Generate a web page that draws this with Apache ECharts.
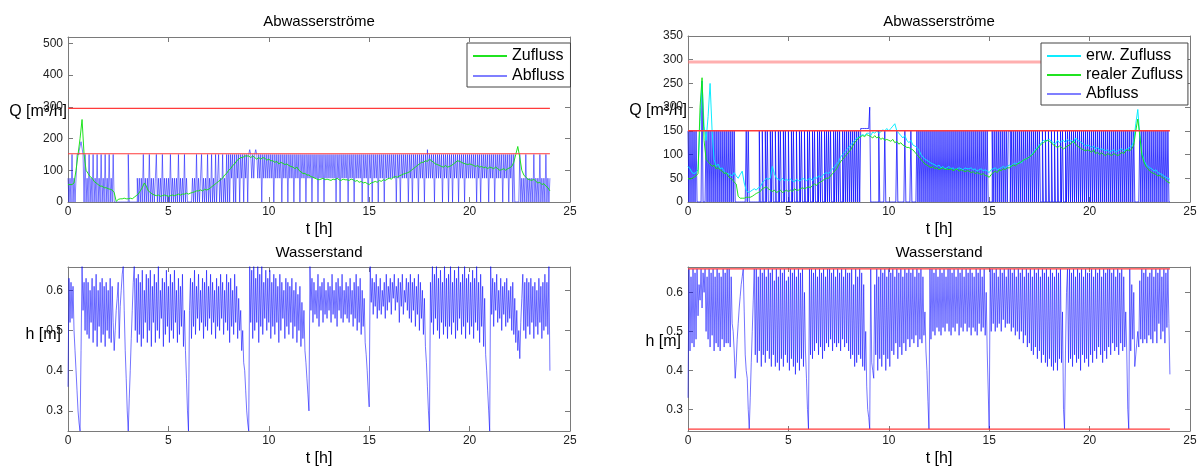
<!DOCTYPE html>
<html>
<head>
<meta charset="utf-8">
<script src="https://cdn.jsdelivr.net/npm/echarts@6/dist/echarts.min.js"></script>
<style>
html,body{margin:0;padding:0;background:#fff;}
#chart{width:1202px;height:467px;}
</style>
</head>
<body>
<div id="chart"></div>
<script>
// ---------- DATA ----------
// inflows sampled every 0.1 h; outflow and level sampled every 0.05 h (t = 0 ... 24 h)
const inflowStepH = 0.1;
const denseStepH = 0.05;
const xTicks = [0, 5, 10, 15, 20, 25];

// top-left: Zufluss [m3/h], 0.1 h
const qZuflussLeft = [
  55,55,55,60,100,150,200,260,150,100,
  90,80,75,65,60,55,50,50,45,45,
  42,40,38,30,2,8,10,10,12,10,
  10,12,10,15,20,25,35,45,60,50,
  35,30,25,22,20,22,18,20,22,20,
  18,20,22,20,22,25,22,25,25,28,
  25,28,30,32,35,35,38,35,40,38,
  40,45,50,55,60,65,70,75,85,90,
  100,105,115,120,130,135,140,140,145,145,
  145,140,145,140,135,140,135,140,138,132,
  135,130,130,125,128,120,125,122,118,120,
  115,112,110,105,110,100,95,90,90,85,
  85,80,78,75,72,70,72,75,70,72,
  70,68,72,70,75,70,68,72,70,70,
  68,72,70,65,68,62,65,60,62,58,
  55,60,62,65,62,68,65,70,68,72,
  75,72,78,80,78,82,85,88,90,92,
  95,100,105,110,115,120,125,125,130,128,
  135,130,125,120,118,115,112,110,115,110,
  112,115,120,125,130,128,125,122,120,118,
  120,118,115,112,115,110,112,108,110,105,
  110,108,105,110,105,100,102,105,100,105,
  108,112,125,150,175,140,100,85,78,72,
  70,68,72,65,60,62,55,58,50,45,
  35
];
// top-left: Abfluss [m3/h], 0.05 h
const qAbflussLeft = [
  75,0,75,0,150,0,75,0,75,150,150,160,175,190,170,150,0,150,0,75,
  0,150,0,75,0,150,0,75,0,150,0,75,0,150,0,75,0,150,0,75,
  0,150,0,75,0,150,0,0,0,0,0,0,0,0,0,0,0,0,0,0,
  150,0,0,0,0,0,0,0,0,75,0,75,0,75,0,150,0,75,0,75,
  0,150,0,75,0,75,0,75,150,0,75,0,75,0,150,0,75,0,75,0,
  75,0,150,0,75,0,75,0,75,0,150,0,75,0,75,0,150,0,75,0,
  0,0,0,0,75,0,75,0,150,0,75,0,75,150,0,75,0,75,0,150,
  0,75,0,150,0,75,0,150,0,75,150,0,75,0,150,0,75,0,150,0,
  150,0,150,75,150,0,150,0,150,75,150,0,150,75,150,0,150,75,150,0,
  150,165,150,75,150,75,150,165,150,75,150,75,150,0,150,75,150,75,150,75,
  150,75,150,75,150,0,150,75,150,75,150,75,150,0,150,75,150,75,150,0,
  150,75,150,75,150,0,150,75,150,75,150,0,150,75,150,75,150,0,150,75,
  150,75,150,0,150,75,150,75,150,0,150,75,150,75,150,0,150,75,150,75,
  150,75,150,75,150,75,150,0,150,75,150,0,150,75,150,75,150,75,150,0,
  150,75,150,75,150,0,150,75,150,75,150,75,150,0,150,75,150,75,150,0,
  150,75,150,0,150,75,150,75,150,0,150,75,150,75,150,0,150,75,150,75,
  150,75,150,75,150,75,150,0,150,75,150,0,150,75,150,75,150,75,150,0,
  150,75,150,0,150,75,150,75,150,0,150,75,150,75,150,0,150,75,165,75,
  150,75,150,75,150,0,150,75,150,75,150,75,150,0,150,75,150,75,150,0,
  150,75,150,0,150,75,150,75,150,0,150,75,150,75,150,0,150,75,150,75,
  150,75,150,75,150,75,150,0,150,75,150,0,150,75,150,75,150,75,150,0,
  150,75,150,75,150,0,150,75,150,75,150,75,150,0,150,75,150,75,150,0,
  150,75,150,0,150,0,0,0,0,0,150,0,75,0,75,0,150,0,75,0,
  75,0,75,0,150,0,75,0,75,0,150,0,75,0,75,0,150,0,75,0,
  75
];
const qLimitsLeft = [295, 152];

// top-right: erw. Zufluss / realer Zufluss [m3/h], 0.1 h
const qErwZuflussRight = [
  75,70,62,60,62,68,170,255,160,130,
  180,250,150,90,75,80,70,72,65,60,
  60,58,55,62,55,50,58,65,40,25,
  20,22,25,28,25,30,32,40,45,50,
  48,50,75,60,50,48,45,50,45,48,
  45,48,45,42,48,45,45,50,48,45,
  48,50,45,52,50,55,52,55,60,62,
  60,65,70,75,80,85,95,100,105,110,
  115,120,125,130,135,135,140,142,140,145,
  145,140,148,145,150,145,148,152,150,155,
  150,155,160,165,150,145,140,135,140,130,
  125,130,120,118,115,110,100,95,90,88,
  85,82,80,78,75,78,72,75,70,72,
  75,70,72,68,70,72,70,68,72,70,
  70,72,68,70,65,68,70,66,68,65,
  62,68,70,72,68,70,72,75,72,75,
  78,75,80,82,80,85,82,88,90,92,
  95,100,105,110,115,120,125,130,128,130,
  132,128,125,122,130,125,128,130,125,132,
  128,130,125,135,130,128,125,122,118,120,
  118,115,118,112,115,110,112,110,108,110,
  105,108,110,105,108,110,112,108,110,112,
  115,118,128,165,195,140,105,88,80,75,
  72,70,65,68,62,60,58,55,52,50,
  48
];
const qRealZuflussRight = [
  50,48,50,52,55,60,200,262,130,90,
  85,80,75,78,70,72,68,65,60,62,
  55,50,48,42,38,12,8,8,8,10,
  10,10,12,15,18,20,22,28,30,32,
  28,25,22,25,20,22,25,20,22,25,
  22,25,22,28,25,25,28,30,28,30,
  32,30,35,38,35,40,42,45,48,50,
  50,55,60,65,70,78,85,90,95,100,
  105,110,118,125,130,135,138,140,138,142,
  140,138,135,140,135,138,132,135,130,132,
  130,128,132,125,128,122,125,120,118,115,
  115,112,110,105,100,95,90,85,80,78,
  75,72,75,70,72,68,70,72,68,70,
  68,70,66,68,70,65,68,66,64,66,
  65,62,64,60,62,60,58,60,56,55,
  52,58,62,65,62,68,66,70,68,72,
  72,75,78,76,80,82,85,88,90,92,
  95,98,102,108,112,118,122,125,128,130,
  128,125,120,118,115,118,115,112,115,118,
  120,125,128,122,118,115,112,110,108,110,
  108,105,110,102,105,100,104,100,98,102,
  100,98,102,100,98,100,105,102,108,110,
  108,112,120,150,175,140,100,85,75,70,
  65,62,60,58,55,56,52,50,45,42,
  40
];
// top-right: Abfluss [m3/h], 0.05 h
const qAbflussRight = [
  150,0,150,0,150,0,150,0,150,0,0,0,0,0,255,0,0,0,150,0,
  150,0,150,0,150,0,150,0,150,0,150,0,150,0,150,0,150,0,150,0,
  150,0,150,0,150,0,150,0,0,0,0,0,0,0,0,0,0,0,150,0,
  150,0,0,0,0,0,0,0,0,0,0,150,0,0,150,0,0,150,0,150,
  0,0,150,0,150,0,0,150,0,0,150,0,150,0,0,150,0,150,0,0,
  150,0,0,150,0,150,0,0,150,0,0,150,0,150,0,0,150,0,0,150,
  0,150,0,0,150,0,150,0,0,150,0,150,0,150,0,0,150,0,150,0,
  150,0,150,0,0,150,0,150,0,150,0,150,0,0,150,0,150,0,150,0,
  150,0,150,0,150,0,150,0,150,0,150,0,155,155,155,155,155,155,155,155,
  155,200,0,0,0,0,0,0,0,0,150,0,0,0,0,0,150,0,0,0,
  0,0,0,0,0,0,0,0,150,0,0,0,0,0,0,0,150,0,0,0,
  0,0,150,0,0,0,0,0,150,0,150,0,150,0,150,0,150,0,150,0,
  150,0,150,0,150,0,150,0,150,0,150,0,150,0,150,0,150,0,150,0,
  150,0,150,0,150,0,150,0,150,0,150,0,150,0,150,0,150,0,150,0,
  150,0,150,0,150,0,150,0,150,0,150,0,150,0,150,0,150,0,150,0,
  0,0,0,150,0,150,0,150,0,150,0,150,0,150,0,150,0,150,0,150,
  150,0,150,0,150,0,150,0,150,0,150,0,150,0,150,0,150,0,150,0,
  150,0,150,0,150,0,150,0,150,0,150,0,0,150,0,0,150,0,0,150,
  0,0,150,0,0,150,0,0,150,0,0,150,0,150,0,0,150,0,150,0,
  150,0,150,0,150,0,150,0,150,0,150,0,150,0,150,0,150,0,150,0,
  150,0,150,0,150,0,150,0,150,0,150,0,150,0,150,0,150,0,150,0,
  150,0,150,0,150,0,150,0,150,0,150,0,150,0,150,0,150,0,150,0,
  150,0,150,0,150,0,0,0,0,0,150,0,150,0,150,0,150,0,150,0,
  150,0,150,0,150,0,150,0,150,0,150,0,150,0,150,0,150,0,150,0,
  0
];
const qLimitsRight = [295, 150];

// bottom: Wasserstand h [m], 0.05 h
const hLeft = [
  .36,.63,.52,.62,.53,.61,.50,.45,.40,.35,.30,.27,.25,.45,.66,.55,.62,.50,.63,.49,
  .62,.48,.60,.52,.63,.47,.61,.50,.64,.46,.60,.51,.62,.47,.63,.49,.61,.46,.62,.50,
  .60,.48,.63,.47,.61,.52,.45,.50,.55,.58,.62,.48,.56,.60,.64,.66,.55,.45,.38,.30,
  .25,.33,.40,.48,.55,.62,.66,.50,.63,.47,.64,.49,.62,.46,.65,.48,.60,.52,.64,.47,
  .63,.50,.65,.46,.61,.52,.64,.47,.62,.50,.66,.48,.60,.53,.63,.46,.62,.49,.65,.51,
  .61,.47,.64,.50,.62,.48,.65,.52,.60,.47,.63,.49,.61,.51,.64,.46,.55,.45,.38,.30,
  .25,.55,.63,.48,.62,.51,.65,.49,.61,.53,.64,.50,.60,.52,.63,.48,.62,.51,.65,.50,
  .61,.53,.64,.49,.62,.52,.60,.48,.63,.51,.61,.50,.64,.53,.62,.49,.60,.52,.64,.50,
  .62,.47,.63,.51,.60,.49,.64,.52,.61,.48,.58,.50,.55,.45,.50,.42,.40,.35,.30,.27,
  .25,.66,.52,.65,.48,.66,.50,.63,.52,.66,.47,.64,.51,.66,.49,.62,.53,.65,.50,.63,
  .52,.65,.48,.62,.51,.64,.49,.63,.52,.61,.47,.64,.50,.62,.53,.60,.48,.63,.51,.62,
  .49,.61,.52,.63,.48,.60,.51,.62,.47,.59,.50,.61,.46,.57,.48,.55,.45,.42,.38,.34,
  .30,.66,.55,.63,.52,.62,.54,.60,.53,.64,.51,.61,.55,.62,.52,.63,.54,.60,.53,.62,
  .55,.61,.52,.64,.54,.60,.53,.62,.51,.63,.55,.61,.53,.64,.52,.60,.54,.62,.53,.61,
  .52,.63,.54,.60,.51,.62,.53,.64,.50,.61,.52,.63,.49,.60,.51,.58,.47,.44,.40,.35,
  .31,.66,.57,.63,.54,.62,.56,.64,.53,.61,.55,.63,.54,.60,.56,.62,.53,.64,.55,.61,
  .57,.63,.54,.62,.58,.64,.55,.61,.57,.63,.52,.62,.56,.64,.54,.60,.57,.63,.55,.62,
  .53,.64,.52,.62,.55,.63,.51,.61,.54,.64,.50,.62,.53,.60,.49,.58,.46,.42,.36,.30,
  .25,.62,.52,.66,.49,.64,.53,.66,.50,.63,.48,.65,.52,.62,.49,.66,.51,.63,.48,.64,
  .51,.66,.49,.62,.52,.65,.48,.63,.50,.66,.53,.62,.49,.64,.51,.66,.48,.63,.52,.64,
  .49,.62,.51,.65,.48,.63,.52,.66,.50,.62,.47,.64,.51,.61,.46,.58,.44,.40,.35,.30,
  .25,.66,.54,.63,.51,.62,.55,.64,.52,.60,.53,.63,.50,.61,.54,.62,.51,.63,.52,.60,
  .53,.61,.50,.62,.49,.58,.47,.55,.45,.50,.43,.52,.58,.64,.50,.62,.48,.63,.51,.62,
  .49,.63,.52,.61,.48,.62,.51,.60,.49,.63,.52,.61,.48,.62,.50,.64,.51,.62,.49,.66,
  .40
];
const hRight = [
  .33,.66,.45,.64,.47,.66,.46,.65,.48,.66,.54,.62,.58,.66,.56,.65,.60,.66,.50,.64,
  .48,.66,.46,.65,.49,.66,.45,.64,.47,.66,.46,.65,.45,.64,.48,.66,.46,.65,.47,.66,
  .47,.66,.46,.64,.52,.50,.45,.38,.42,.48,.52,.56,.59,.62,.64,.66,.55,.44,.40,.38,
  .30,.25,.33,.42,.50,.58,.66,.44,.66,.42,.64,.45,.66,.41,.65,.44,.66,.42,.64,.45,
  .66,.43,.65,.41,.66,.44,.63,.41,.66,.42,.64,.40,.66,.43,.65,.41,.66,.44,.63,.42,
  .64,.40,.66,.43,.65,.41,.66,.39,.64,.42,.66,.40,.65,.43,.66,.41,.60,.45,.38,.30,
  .25,.66,.44,.66,.43,.65,.45,.66,.47,.64,.44,.66,.46,.65,.43,.66,.45,.64,.47,.66,
  .46,.66,.48,.65,.45,.66,.47,.64,.46,.66,.47,.65,.45,.66,.48,.64,.46,.66,.47,.65,
  .45,.65,.43,.66,.44,.62,.41,.66,.42,.64,.44,.66,.43,.65,.41,.62,.40,.50,.36,.30,
  .28,.25,.66,.42,.40,.38,.62,.44,.66,.40,.64,.43,.66,.41,.65,.44,.66,.40,.64,.43,
  .66,.41,.65,.45,.66,.44,.64,.47,.66,.43,.65,.46,.66,.44,.64,.47,.66,.45,.65,.48,
  .66,.46,.65,.48,.66,.47,.64,.49,.66,.46,.65,.48,.66,.47,.64,.49,.55,.45,.40,.32,
  .25,.66,.48,.66,.50,.65,.49,.66,.51,.64,.50,.66,.49,.65,.51,.66,.50,.64,.52,.66,
  .50,.66,.49,.65,.51,.66,.50,.64,.52,.66,.49,.65,.51,.66,.50,.64,.52,.66,.50,.65,
  .51,.66,.49,.65,.51,.64,.50,.66,.49,.65,.52,.66,.50,.64,.51,.66,.49,.60,.45,.35,
  .25,.66,.50,.66,.52,.65,.50,.66,.51,.64,.52,.66,.50,.65,.53,.66,.51,.64,.52,.66,
  .52,.66,.50,.65,.51,.66,.49,.64,.50,.66,.48,.65,.50,.66,.47,.64,.49,.66,.46,.65,
  .47,.66,.45,.64,.44,.66,.46,.65,.43,.66,.45,.64,.42,.66,.44,.65,.42,.66,.41,.64,
  .43,.66,.41,.65,.40,.64,.42,.66,.40,.65,.43,.66,.42,.55,.30,.25,.45,.60,.66,.42,
  .66,.43,.65,.41,.66,.44,.64,.42,.66,.43,.65,.40,.66,.44,.64,.42,.66,.43,.65,.41,
  .65,.44,.66,.42,.64,.45,.66,.43,.65,.46,.66,.44,.64,.42,.66,.45,.65,.43,.66,.46,
  .66,.44,.65,.47,.66,.45,.64,.46,.66,.44,.65,.47,.66,.45,.64,.46,.55,.45,.30,.25,
  .66,.45,.62,.48,.60,.41,.44,.47,.50,.46,.63,.48,.66,.47,.65,.48,.66,.47,.64,.49,
  .65,.48,.66,.47,.64,.50,.66,.47,.65,.52,.66,.48,.64,.50,.66,.47,.65,.51,.66,.52,
  .39
];
const hLimitsRight = [0.66, 0.25];
const limitSpanH = [0, 24];

// ---------- CHART ----------
const FONT = 'Liberation Sans, Arial, Helvetica, sans-serif';
const BOX = '#7a7a7a';
const TXT = '#222';

const grids = [
  {left: 68,  top: 37,  width: 502, height: 165},
  {left: 688, top: 36,  width: 502, height: 166},
  {left: 68,  top: 267, width: 502, height: 164},
  {left: 688, top: 267, width: 502, height: 164}
].map(g => Object.assign({containLabel: false, outerBoundsMode: 'none'}, g));

const yCfg = [
  {min: 0, max: 520, splitNumber: 5, name: 'Q [m³/h]', gap: 1, lh: 16},
  {min: 0, max: 350, interval: 50, name: 'Q [m³/h]', gap: 1, lh: 16},
  {min: 0.25, max: 0.658, splitNumber: 4, name: 'h [m]', gap: 7, lh: 28},
  {min: 0.245, max: 0.665, splitNumber: 4, name: 'h [m]', gap: 7, lh: 14}
];

const xAxes = [], yAxes = [];
grids.forEach((g, gi) => {
  const common = {
    gridIndex: gi, type: 'value', min: xTicks[0], max: xTicks[xTicks.length - 1], interval: 5,
    axisLine: {show: true, onZero: false, lineStyle: {color: BOX, width: 1}},
    axisTick: {show: true, inside: true, length: 5, lineStyle: {color: BOX}},
    splitLine: {show: false}
  };
  xAxes.push(Object.assign({}, common, {
    position: 'bottom', name: 't [h]', nameLocation: 'middle', nameGap: 20, nameMoveOverlap: false,
    nameTextStyle: {fontFamily: FONT, fontSize: 16, color: '#000'},
    axisLabel: {margin: 4, fontFamily: FONT, fontSize: 12, color: TXT}
  }));
  xAxes.push(Object.assign({}, common, {position: 'top', axisLabel: {show: false}}));
  const y = yCfg[gi];
  const yc = {
    gridIndex: gi, type: 'value', min: y.min, max: y.max,
    axisLine: {show: true, onZero: false, lineStyle: {color: BOX, width: 1}},
    axisTick: {show: true, inside: true, length: 5, lineStyle: {color: BOX}},
    splitLine: {show: false}
  };
  if (y.interval) yc.interval = y.interval; else yc.splitNumber = y.splitNumber;
  yAxes.push(Object.assign({}, yc, {
    position: 'left', name: y.name, nameLocation: 'middle', nameRotate: 0, nameGap: y.gap,
    nameMoveOverlap: false,
    nameTextStyle: {fontFamily: FONT, fontSize: 16, color: '#000',
      verticalAlign: 'bottom', lineHeight: y.lh},
    axisLabel: {margin: 5, fontFamily: FONT, fontSize: 12, color: TXT,
      showMinLabel: gi < 2, showMaxLabel: gi === 1}
  }));
  yAxes.push(Object.assign({}, yc, {position: 'right', axisLabel: {show: false}}));
});

function toPairs(arr, step) {
  return arr.map((v, i) => [Math.round(i * step * 1000) / 1000, v]);
}
function limitPairs(v) {
  return [[limitSpanH[0], v], [limitSpanH[1], v]];
}
function lineSeries(gi, name, data, color, width, extra) {
  return Object.assign({
    type: 'line', name: name, xAxisIndex: 2 * gi, yAxisIndex: 2 * gi,
    data: data, showSymbol: false, symbol: 'none', color: color,
    lineStyle: {color: color, width: width}, silent: true, z: 2
  }, extra || {});
}

const BLUE_L = 'rgba(0,0,255,0.5)';
const BLUE_R = 'rgba(0,0,255,0.72)';
const BLUE_H = 'rgba(0,0,255,0.55)';
const GREEN = 'rgba(20,225,20,0.95)';
const CYAN = 'rgba(0,235,255,0.95)';
const RED = '#ff3b3b';

const series = [
  // top-left
  lineSeries(0, 'Abfluss', toPairs(qAbflussLeft, denseStepH), BLUE_L, 1, {step: 'end'}),
  lineSeries(0, 'Zufluss', toPairs(qZuflussLeft, inflowStepH), GREEN, 1),
  lineSeries(0, 'limit1', limitPairs(qLimitsLeft[0]), RED, 1.2),
  lineSeries(0, 'limit2', limitPairs(qLimitsLeft[1]), RED, 1.2),
  // top-right
  lineSeries(1, 'Abfluss', toPairs(qAbflussRight, denseStepH), BLUE_R, 1, {step: 'end'}),
  lineSeries(1, 'erw. Zufluss', toPairs(qErwZuflussRight, inflowStepH), CYAN, 1),
  lineSeries(1, 'realer Zufluss', toPairs(qRealZuflussRight, inflowStepH), GREEN, 1),
  lineSeries(1, 'limit3', limitPairs(qLimitsRight[0]), 'rgba(255,110,110,0.55)', 3),
  lineSeries(1, 'limit4', limitPairs(qLimitsRight[1]), RED, 1.5),
  // bottom-left
  lineSeries(2, 'h links', toPairs(hLeft, denseStepH), BLUE_H, 1),
  // bottom-right
  lineSeries(3, 'h rechts', toPairs(hRight, denseStepH), BLUE_H, 1),
  lineSeries(3, 'limit5', limitPairs(hLimitsRight[0]), RED, 1.2),
  lineSeries(3, 'limit6', limitPairs(hLimitsRight[1]), RED, 1.2)
];

const legendCommon = {
  orient: 'vertical', icon: 'rect', itemWidth: 34, itemHeight: 2, itemGap: 3,
  borderColor: '#444', borderWidth: 1, backgroundColor: '#fff', borderRadius: 0,
  textStyle: {fontFamily: FONT, fontSize: 16, color: '#000', lineHeight: 16},
  selectedMode: false
};

const titleStyle = {fontFamily: FONT, fontSize: 15, fontWeight: 'normal', color: '#000'};

const option = {
  animation: false,
  backgroundColor: '#fff',
  title: [
    {text: 'Abwasserströme', left: 319, top: 14, textAlign: 'center', padding: 0, textStyle: titleStyle},
    {text: 'Abwasserströme', left: 939, top: 14, textAlign: 'center', padding: 0, textStyle: titleStyle},
    {text: 'Wasserstand', left: 319, top: 245, textAlign: 'center', padding: 0, textStyle: titleStyle},
    {text: 'Wasserstand', left: 939, top: 245, textAlign: 'center', padding: 0, textStyle: titleStyle}
  ],
  legend: [
    Object.assign({}, legendCommon, {data: ['Zufluss', 'Abfluss'], left: 467, top: 43, padding: [5, 6, 3, 6], itemGap: 4}),
    Object.assign({}, legendCommon, {data: ['erw. Zufluss', 'realer Zufluss', 'Abfluss'], left: 1041, top: 43, padding: [5, 5, 3, 6]})
  ],
  grid: grids,
  xAxis: xAxes,
  yAxis: yAxes,
  series: series
};

const chart = echarts.init(document.getElementById('chart'), null, {renderer: 'canvas'});
chart.setOption(option);
</script>
</body>
</html>
